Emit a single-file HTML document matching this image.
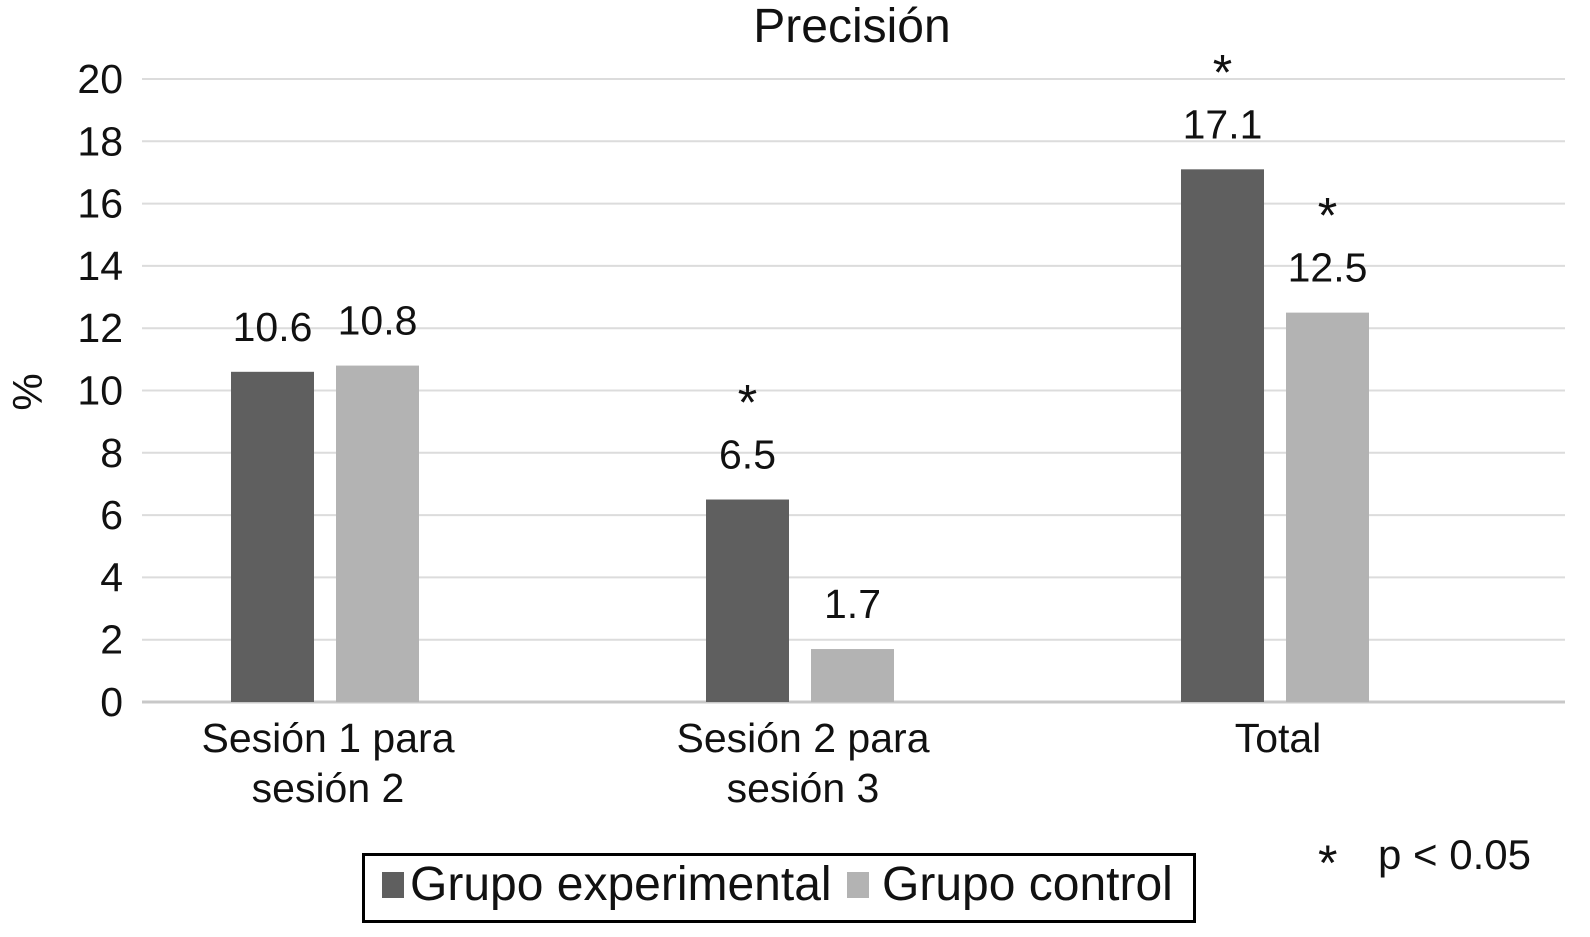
<!DOCTYPE html>
<html><head><meta charset="utf-8">
<style>
html,body{margin:0;padding:0;background:#fff;}
svg{display:block;font-family:"Liberation Sans",Arial,sans-serif;}
</style></head>
<body>
<svg id="chart" width="1590" height="937" viewBox="0 0 1590 937">
  <text x="852" y="42" font-size="48" text-anchor="middle" fill="#111">Precisión</text>
  <text transform="translate(42,392) rotate(-90)" font-size="42" text-anchor="middle" fill="#111">%</text>
  <g id="grid"></g>
  <g id="yticks"></g>
  <g id="bars"></g>
  <g id="labels"></g>
  <g id="cats"></g>
  <g>
    <rect x="363.5" y="854.5" width="831" height="67" fill="#fff" stroke="#000" stroke-width="3"/>
    <rect x="382" y="872" width="22" height="26" fill="#5f5f5f"/>
    <text x="410" y="900" font-size="48" fill="#111">Grupo experimental</text>
    <rect x="847" y="872" width="22" height="26" fill="#b3b3b3"/>
    <text x="882" y="900" font-size="48" fill="#111">Grupo control</text>
  </g>
  <text x="1318" y="880" font-size="50" fill="#111">*</text>
  <text x="1378" y="869" font-size="42" fill="#111">p &lt; 0.05</text>
</svg>
<script>
const categories = [["Sesión 1 para","sesión 2"],["Sesión 2 para","sesión 3"],["Total"]];
const experimental = [10.6, 6.5, 17.1];
const control = [10.8, 1.7, 12.5];
const expSignif = [false, true, true];
const ctrlSignif = [false, false, true];
const yTicks = [0,2,4,6,8,10,12,14,16,18,20];

const NS = "http://www.w3.org/2000/svg";
const y0 = 702, y20 = 79;
function yScale(v){ return y0 - (v/20)*(y0-y20); }
function xCenter(i){ return 325 + i*475; }
function mk(tag, attrs, parent){
  const e = document.createElementNS(NS, tag);
  for (const k in attrs) e.setAttribute(k, attrs[k]);
  parent.appendChild(e); return e;
}
const grid = document.getElementById('grid');
const yt = document.getElementById('yticks');
yTicks.forEach(t=>{
  const y = yScale(t);
  const l = mk('line',{x1:142,x2:1565,y1:y,y2:y,stroke:t===0?'#c8c8c8':'#dcdcdc','stroke-width':t===0?3:2},grid);
  
  
  const tx = mk('text',{x:123,y:y+14,'font-size':41,'text-anchor':'end',fill:'#111'},yt);
  tx.textContent = t;
  
  
});
const bars = document.getElementById('bars');
const labels = document.getElementById('labels');
const cats = document.getElementById('cats');
const bw = 83, off = 52.5;
function drawBar(i, v, color, dx, sig, name){
  const cx = xCenter(i)+dx;
  const r = mk('rect',{x:cx-bw/2,y:yScale(v),width:bw,height:y0-yScale(v),fill:color},bars);
  
  
  const t = mk('text',{x:cx,y:yScale(v)-31,'font-size':41,'text-anchor':'middle',fill:'#111'},labels);
  t.textContent = v.toFixed(1);
  
  
  if (sig){
    const s = mk('text',{x:cx,y:yScale(v)-80,'font-size':50,'text-anchor':'middle',fill:'#111'},labels);
    s.textContent = '*';
    
    
  }
}
categories.forEach((c,i)=>{
  drawBar(i, experimental[i], '#5f5f5f', -off, expSignif[i], 'bar-experimental');
  drawBar(i, control[i], '#b3b3b3', off, ctrlSignif[i], 'bar-control');
  c.forEach((line,j)=>{
    const t = mk('text',{x:xCenter(i)+3,y:752+j*50,'font-size':41,'text-anchor':'middle',fill:'#111'},cats);
    t.textContent = line;
    
    
  });
});
</script>
</body></html>
